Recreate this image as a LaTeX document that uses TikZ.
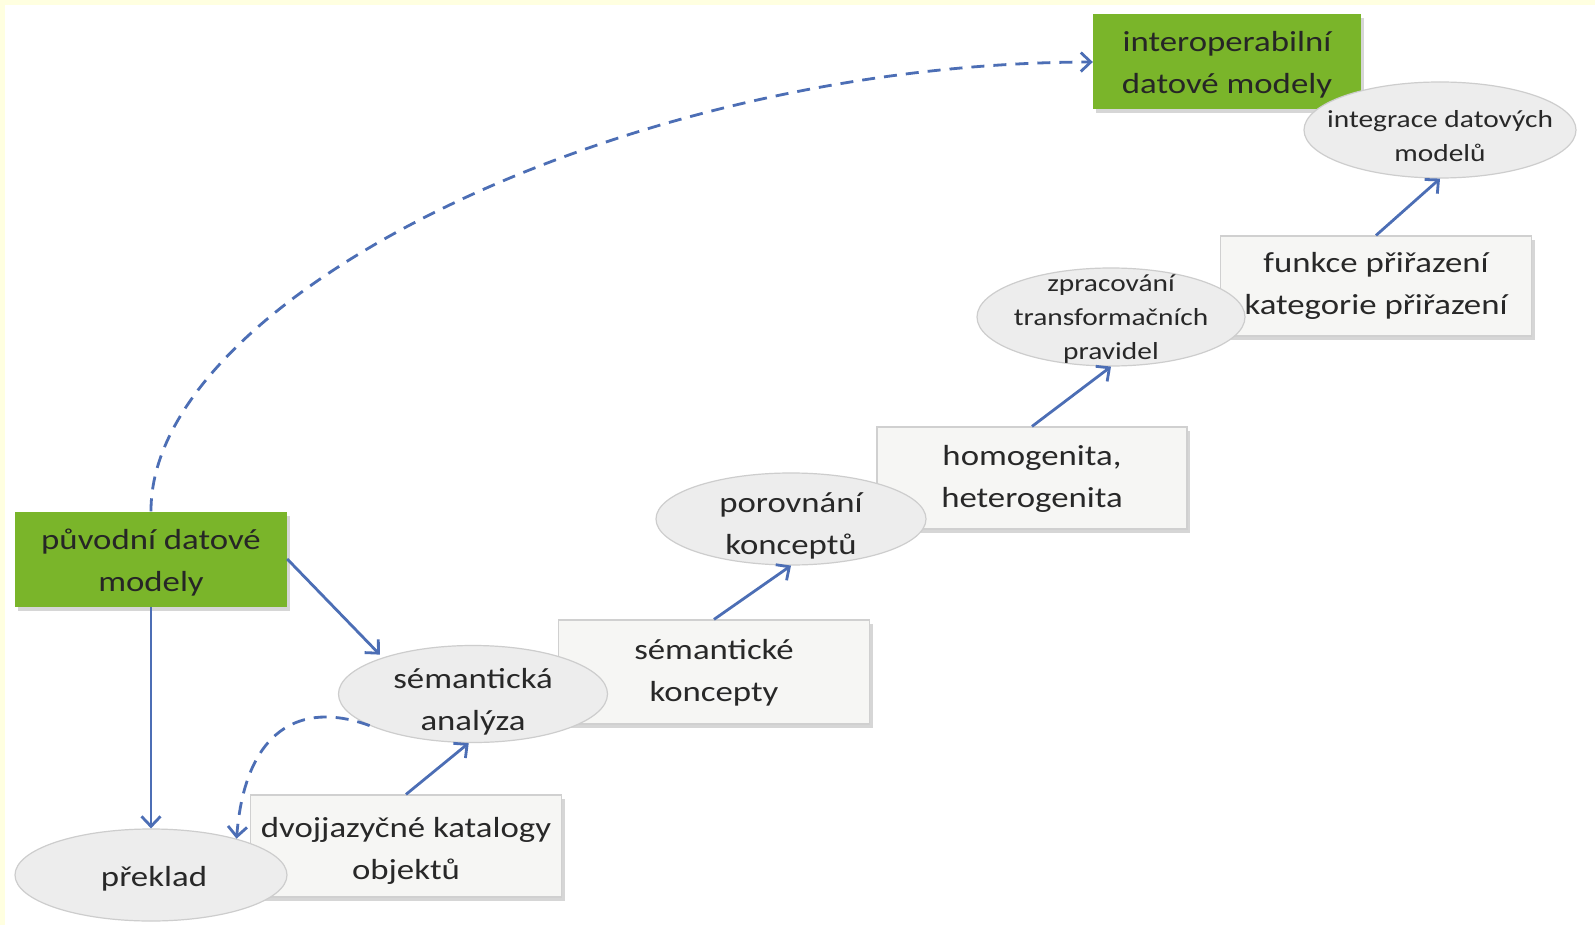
\documentclass[tikz,border=0pt]{standalone}
\usepackage{fontspec}
\setmainfont{Carlito}[FakeStretch=1.2]
\usetikzlibrary{arrows.meta,shapes.geometric,shadows}
\definecolor{paper}{RGB}{255,255,224}
\definecolor{leaf}{RGB}{122,181,42}
\definecolor{flow}{RGB}{76,110,181}
\definecolor{boxfill}{RGB}{246,246,244}
\definecolor{boxline}{RGB}{208,208,208}
\definecolor{ovalfill}{RGB}{237,237,237}
\definecolor{ovalline}{RGB}{205,205,205}
\definecolor{ink}{RGB}{40,40,40}
\begin{document}
\begin{tikzpicture}[x=1pt,y=-1pt,
  softshadow/.style={drop shadow={shadow xshift=3pt,shadow yshift=-4pt,opacity=0.16,fill=black}},
  bigtext/.style={font=\fontsize{29}{42}\selectfont,text=ink,align=center,inner sep=0pt},
  smalltext/.style={font=\fontsize{24.5}{34}\selectfont,text=ink,align=center,inner sep=0pt},
  greentext/.style={bigtext,text=black!85},
  greenbox/.style={rectangle,fill=leaf,draw=none,softshadow,inner sep=0pt},
  graybox/.style={rectangle,fill=boxfill,draw=boxline,line width=1.2pt,softshadow,inner sep=0pt},
  oval/.style={ellipse,fill=ovalfill,draw=ovalline,line width=1.2pt,inner sep=0pt},
  link/.style={draw=flow,line width=2.8pt,-{Straight Barb[length=10pt,width=19pt,line width=2.8pt]}},
  hint/.style={link,dash pattern=on 13pt off 9pt}
]
\useasboundingbox (0,0) rectangle (1595,925);
\fill[paper] (0,0) rectangle (1595,925);
\fill[white] (5,5) rectangle (1595,925);

% rectangular stages
\node[graybox,minimum width=311pt,minimum height=100pt] (funk) at (1376,286) {};
\node[bigtext] (funkT) at (funk.center) {funkce přiřazení\\kategorie přiřazení};
\node[graybox,minimum width=310pt,minimum height=102pt] (homog) at (1032,478) {};
\node[bigtext] (homogT) at ([yshift=-1pt]homog.center) {homogenita,\\heterogenita};
\node[graybox,minimum width=311pt,minimum height=104pt] (semk) at (714,672) {};
\node[bigtext] (semkT) at ([yshift=-1pt]semk.center) {sémantické\\koncepty};
\node[graybox,minimum width=311pt,minimum height=102pt] (dvoj) at (406,846) {};
\node[bigtext] (dvojT) at ([yshift=-5pt]dvoj.center) {dvojjazyčné katalogy\\objektů};

% green end points
\node[greenbox,minimum width=272pt,minimum height=95pt] (orig) at (151,559) {};
\node[greentext] (origT) at ([yshift=-4pt]orig.center) {původní datové\\modely};
\node[greenbox,minimum width=268pt,minimum height=95pt] (inter) at (1227,62) {};
\node[greentext] (interT) at ([yshift=-3pt]inter.center) {interoperabilní\\datové modely};

% oval process steps
\node[oval,minimum width=272pt,minimum height=96pt] (integ) at (1440,130) {};
\node[smalltext] (integT) at ([yshift=-6pt]integ.center) {integrace datových\\modelů};
\node[oval,minimum width=268pt,minimum height=98pt] (zprac) at (1111,317) {};
\node[smalltext] (zpracT) at ([yshift=-2pt]zprac.center) {zpracování\\transformačních\\pravidel};
\node[oval,minimum width=270pt,minimum height=92pt] (porov) at (791,519) {};
\node[bigtext] (porovT) at ([yshift=-7pt]porov.center) {porovnání\\konceptů};
\node[oval,minimum width=269pt,minimum height=97pt] (sema) at (473,694) {};
\node[bigtext] (semaT) at ([yshift=-8pt]sema.center) {sémantická\\analýza};
\node[oval,minimum width=272pt,minimum height=92pt] (prek) at (151,875) {};
\node[bigtext] (prekT) at ([xshift=3pt,yshift=-4pt]prek.center) {překlad};

% solid connectors
\draw[link,shorten >=4pt] (orig.east) -- (sema.158);
\draw[link] (orig.south) -- (prek.north);
\draw[link] (dvoj.north) -- (sema.265);
\draw[link] (semk.north) -- (porov.south);
\draw[link] (homog.north) -- (zprac.south);
\draw[link] (funk.north) -- (integ.south);

% dashed connectors
\draw[hint] (orig.north) .. controls (150,300) and (620,63) .. (inter.west);
\draw[hint] (sema.197) .. controls (300,700) and (245,730) .. (prek.23);
\end{tikzpicture}
\end{document}
